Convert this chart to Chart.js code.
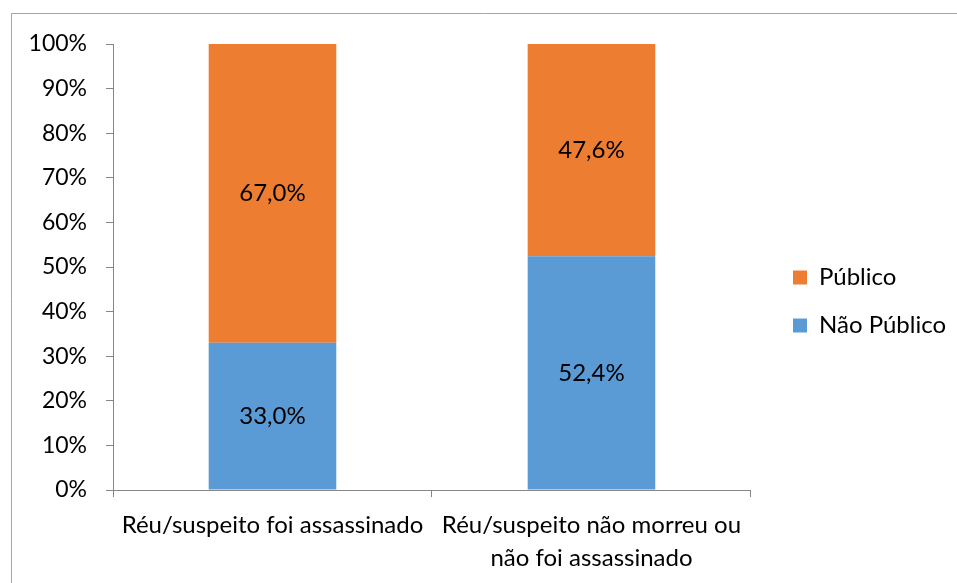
<!DOCTYPE html>
<html>
<head>
<meta charset="utf-8">
<script src="https://cdn.jsdelivr.net/npm/chart.js@4"></script>
<style>
  body { margin: 0; background: #fff; }
  #wrap { width: 957px; height: 583px; }
</style>
</head>
<body>
<div id="wrap"><canvas id="chart" width="957" height="583"></canvas></div>
<script>
const categories = [
    'Réu/suspeito foi assassinado',
    ['Réu/suspeito não morreu ou', 'não foi assassinado']
];
const naoPublico = [33.0, 52.4];
const publico = [67.0, 47.6];
const yTicks = [0, 10, 20, 30, 40, 50, 60, 70, 80, 90, 100];

const FONT = 'Lato, "Open Sans", sans-serif';
const AXIS_GRAY = '#868686';

// frame around the chart, like the spreadsheet chart outline
const framePlugin = {
    id: 'frame',
    beforeDraw(chart) {
        const ctx = chart.ctx;
        ctx.save();
        ctx.strokeStyle = '#a6a6a6';
        ctx.lineWidth = 1;
        ctx.beginPath();
        ctx.moveTo(11.5, chart.height);
        ctx.lineTo(11.5, 13.5);
        ctx.lineTo(chart.width, 13.5);
        ctx.stroke();
        ctx.restore();
    }
};

// value labels in the middle of each segment
const valueLabels = {
    id: 'valueLabels',
    afterDatasetsDraw(chart) {
        const ctx = chart.ctx;
        ctx.save();
        ctx.font = '24px ' + FONT;
        ctx.fillStyle = '#000';
        ctx.textAlign = 'center';
        ctx.textBaseline = 'middle';
        chart.data.datasets.forEach((ds, i) => {
            chart.getDatasetMeta(i).data.forEach((bar, j) => {
                const text = ds.data[j].toFixed(1).replace('.', ',') + '%';
                ctx.fillText(text, bar.x, (bar.y + bar.base) / 2);
            });
        });
        ctx.restore();
    }
};

// push legend a bit away from the plot and up to the middle
const legendShift = {
    id: 'legendShift',
    afterLayout(chart) {
        const lg = chart.legend;
        if (lg) {
            const dx = 793 - 24 - lg.left;
            lg.left += dx;
            lg.right += dx;
            lg.top -= 12;
            lg.bottom -= 12;
        }
    }
};

new Chart(document.getElementById('chart'), {
    type: 'bar',
    data: {
        labels: categories,
        datasets: [
            {
                label: 'Não Público',
                data: naoPublico,
                backgroundColor: '#5B9BD5',
                barPercentage: 0.4,
                categoryPercentage: 1
            },
            {
                label: 'Público',
                data: publico,
                backgroundColor: '#ED7D31',
                barPercentage: 0.4,
                categoryPercentage: 1
            }
        ]
    },
    options: {
        responsive: false,
        animation: false,
        layout: { padding: { top: 44, left: 0, right: 19, bottom: 0 } },
        plugins: {
            tooltip: { enabled: false },
            legend: {
                position: 'right',
                reverse: true,
                labels: {
                    boxWidth: 14,
                    boxHeight: 14,
                    padding: 24,
                    color: '#000',
                    font: { family: FONT, size: 24 }
                }
            }
        },
        scales: {
            x: {
                stacked: true,
                border: { color: AXIS_GRAY },
                grid: { drawOnChartArea: false, color: AXIS_GRAY, tickLength: 7, offset: true },
                ticks: {
                    color: '#000',
                    padding: 12,
                    maxRotation: 0,
                    autoSkip: false,
                    font: { family: FONT, size: 24, lineHeight: 1.38 }
                },
                afterFit(scale) { scale.height = 93; }
            },
            y: {
                stacked: true,
                min: 0,
                max: 100,
                border: { color: AXIS_GRAY },
                grid: { drawOnChartArea: false, color: AXIS_GRAY, tickLength: 7 },
                afterBuildTicks(scale) {
                    scale.ticks = yTicks.map(v => ({ value: v }));
                },
                ticks: {
                    color: '#000',
                    padding: 19,
                    font: { family: FONT, size: 23 },
                    callback: v => v + '%'
                },
                afterFit(scale) { scale.width = 113; }
            }
        }
    },
    plugins: [framePlugin, valueLabels, legendShift]
});
</script>
</body>
</html>
